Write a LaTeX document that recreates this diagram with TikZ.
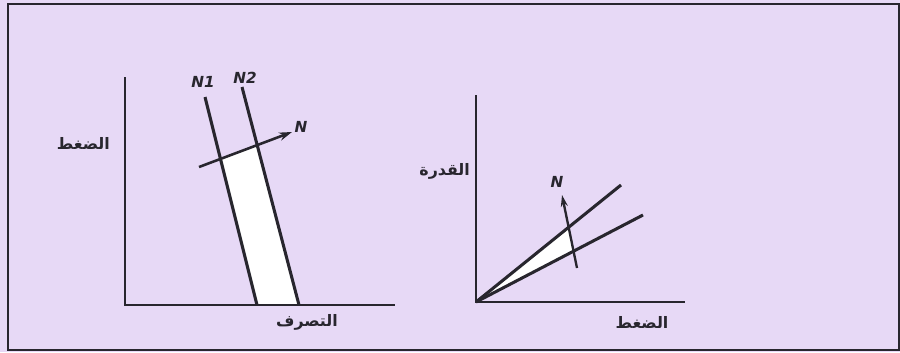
\documentclass[tikz,border=0pt]{standalone}
\usepackage{fontspec}
\usepackage{xcolor}
\usetikzlibrary{arrows.meta,positioning,calc}
\TeXXeTstate=1
\newfontfamily\arabicfont[Script=Arabic]{DejaVu Sans}
\newfontfamily\latinfont{DejaVu Sans}
\definecolor{lilac}{RGB}{231,217,246}
\definecolor{ink}{RGB}{40,38,46}

\begin{document}
\begin{tikzpicture}[x=0.03cm,y=-0.03cm,>=Stealth,
    axis/.style={line width=2.2pt,ink},
    curve/.style={line width=2.6pt,ink},
    arlbl/.style={font=\arabicfont\bfseries\fontsize{13.5}{16}\selectfont,text=ink,inner sep=0pt},
    nlbl/.style={font=\latinfont\bfseries\itshape\fontsize{13}{15}\selectfont,text=ink,inner sep=0pt}]
  \useasboundingbox (0,0) rectangle (900,352);
  \fill[lilac] (0,0) rectangle (900,352);
  \draw[line width=1.4pt,ink] (8,4) rectangle (899,350);

  % left: pressure against discharge
  \coordinate (o1) at (125,305);
  \coordinate (y1) at (125,77);
  \coordinate (x1) at (395,305);
  \coordinate (n1top) at (205,97);
  \coordinate (n1bot) at (257,305);
  \coordinate (n2top) at (242,87);
  \coordinate (n2bot) at (299,305);
  \coordinate (nstart) at (199,167);
  \coordinate (nend) at (292,132);
  \coordinate (cut1) at (intersection of n1top--n1bot and nstart--nend);
  \coordinate (cut2) at (intersection of n2top--n2bot and nstart--nend);
  \fill[white] (cut1) -- (cut2) -- (n2bot) -- (n1bot) -- cycle;
  \draw[axis] (y1) -- (o1) -- (x1);
  \draw[curve] (n1top) -- (n1bot);
  \draw[curve] (n2top) -- (n2bot);
  \draw[line width=2.2pt,ink,-{Stealth[length=11pt,width=7pt]}] (nstart) -- (nend);
  \node[nlbl] (labn1) at (203,82) {N1};
  \node[nlbl] (labn2) at (245,78) {N2};
  \node[nlbl] (labnl) at (301,127) {N};
  \node[arlbl,anchor=east] (press1) at (110,143) {\arabicfont\beginR الضغط\endR};
  \node[arlbl] (flow) at (307,322) {\arabicfont\beginR التصرف\endR};

  % right: power against pressure
  \coordinate (o2) at (476,302);
  \coordinate (y2) at (476,95);
  \coordinate (x2) at (685,302);
  \coordinate (upper) at (621,185);
  \coordinate (lower) at (643,215);
  \coordinate (mstart) at (577,268);
  \coordinate (mend) at (562,195);
  \coordinate (cut3) at (intersection of o2--upper and mstart--mend);
  \coordinate (cut4) at (intersection of o2--lower and mstart--mend);
  \fill[white] (o2) -- (cut3) -- (cut4) -- cycle;
  \draw[axis] (y2) -- (o2) -- (x2);
  \draw[curve] (o2) -- (upper);
  \draw[curve] (o2) -- (lower);
  \draw[line width=2pt,ink,-{Stealth[length=10pt,width=6pt]}] (mstart) -- (mend);
  \node[nlbl] (labnr) at (557,182) {N};
  \node[arlbl,anchor=east] (power) at (470,171) {\arabicfont\beginR القدرة\endR};
  \node[arlbl] (press2) at (642,322) {\arabicfont\beginR الضغط\endR};
\end{tikzpicture}
\end{document}
